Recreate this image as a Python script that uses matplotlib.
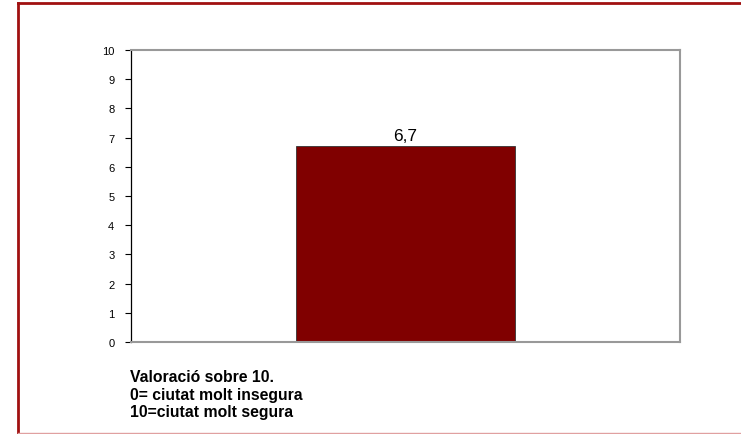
import matplotlib
matplotlib.use("Agg")
import matplotlib.pyplot as plt
from matplotlib.lines import Line2D

plt.rcParams['font.family'] = ['Liberation Sans', 'DejaVu Sans']

categories = ['']
values = [6.7]
value_labels = ['6,7']
yticks = list(range(0, 11))
note_lines = ['Valoració sobre 10.', '0= ciutat molt insegura', '10=ciutat molt segura']

fig = plt.figure(figsize=(7.41, 4.35), dpi=100)
ax = fig.add_axes([0.1768, 0.2115, 0.7409, 0.6713])

bars = ax.bar(range(len(categories)), values, width=0.4, color='#800000',
              edgecolor='#333333', linewidth=0.6)
for b, lab in zip(bars, value_labels):
    ax.text(b.get_x() + b.get_width() / 2, b.get_height() + 0.12, lab,
            ha='center', va='bottom', fontsize=12.5)

ax.set_xlim(-0.5, 0.5)
ax.set_ylim(0, 10)
ax.set_yticks(yticks)
ax.set_xticks([])
ax.tick_params(axis='y', direction='out', length=4, width=0.8, labelsize=8, pad=8)

ax.spines['left'].set_color('black')
ax.spines['left'].set_linewidth(0.9)
for s in ['top', 'right', 'bottom']:
    ax.spines[s].set_color('#999999')
    ax.spines[s].set_linewidth(1.5)

# note under the chart
fig.text(130 / 741, 1 - 370 / 435, '\n'.join(note_lines), ha='left', va='top',
         fontsize=11.3, fontweight='bold', linespacing=1.22)

# outer frame
fig.add_artist(Line2D([18 / 741, 18 / 741], [0, 1 - 4 / 435], transform=fig.transFigure,
                      color='#a01010', linewidth=2))
fig.add_artist(Line2D([18 / 741, 1], [1 - 4 / 435, 1 - 4 / 435], transform=fig.transFigure,
                      color='#a01010', linewidth=2))
fig.add_artist(Line2D([18 / 741, 1], [1 / 435, 1 / 435], transform=fig.transFigure,
                      color='#e0a0a0', linewidth=1))

fig.savefig('out.png', dpi=100)
